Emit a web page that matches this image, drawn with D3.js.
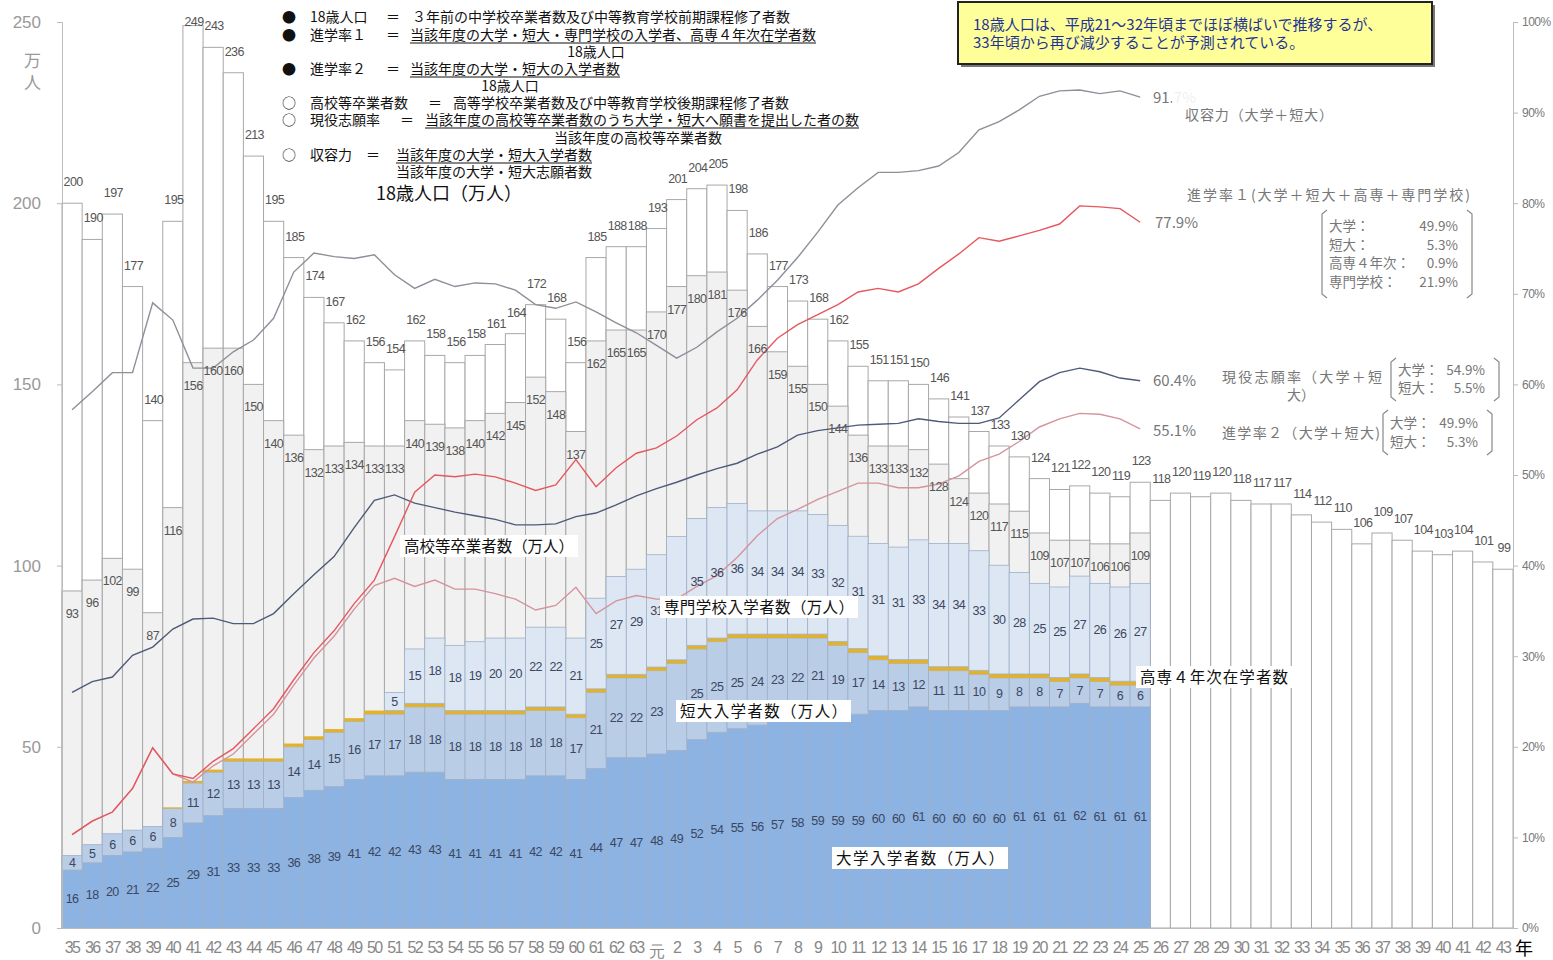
<!DOCTYPE html>
<html>
<head>
<meta charset="utf-8">
<style>
  body { margin: 0; background: #fff; }
  svg { display: block; font-family: "Liberation Sans", Arial, sans-serif; }
  .jp { font-family: "Noto Sans CJK JP", "Noto Sans", sans-serif; }
</style>
</head>
<body>
<svg id="chart" width="1553" height="960"></svg>
<script src="https://d3js.org/d3.v7.min.js"></script>
<script>
// years: Showa 35..63, Heisei 元..43
var years = ["35","36","37","38","39","40","41","42","43","44","45","46","47","48","49","50","51","52","53","54",
  "55","56","57","58","59","60","61","62","63","元","2","3","4","5","6","7","8","9","10","11","12","13","14","15",
  "16","17","18","19","20","21","22","23","24","25","26","27","28","29","30","31","32","33","34","35 ","36 ","37 ",
  "38 ","39 ","40 ","41 ","42 ","43 "];

// 18歳人口 (万人)
var pop18 = [200,190,197,177,140,195,249,243,236,213,195,185,174,167,162,156,154,162,158,156,
  158,161,164,172,168,156,185,188,188,193,201,204,205,198,186,177,173,168,162,155,
  151,151,150,146,141,137,133,130,124,121,122,120,119,123,118,120,119,120,118,117,
  117,114,112,110,106,109,107,104,103,104,101,99];

// 高校等卒業者数 (万人)  S35..H25
var highSchool = [93,96,102,99,87,116,156,160,160,150,140,136,132,133,134,133,133,140,139,138,
  140,142,145,152,148,137,162,165,165,170,177,180,181,176,166,159,155,150,144,136,
  133,133,132,128,124,120,117,115,109,107,107,106,106,109];

// 大学入学者数
var univ = [16,18,20,21,22,25,29,31,33,33,33,36,38,39,41,42,42,43,43,41,
  41,41,41,42,42,41,44,47,47,48,49,52,54,55,56,57,58,59,59,59,
  60,60,61,60,60,60,60,61,61,61,62,61,61,61];
// 短大入学者数
var junior = [4,5,6,6,6,8,11,12,13,13,13,14,14,15,16,17,17,18,18,18,
  18,18,18,18,18,17,21,22,22,23,24,25,25,25,24,23,22,21,19,17,
  14,13,12,11,11,10,9,8,8,7,7,7,6,6];
// 高専4年次在学者数
var kosen = [0,0,0,0,0,0.3,0.6,0.7,0.8,0.8,0.8,0.9,0.9,0.9,0.9,1,1,1,1,1,
  1,1,1,1,1,1,1,1,1,1,1,1,1,1.1,1.1,1.1,1.1,1.1,1.1,1.1,
  1.1,1.1,1.1,1.1,1.1,1.1,1.1,1.1,1.1,1.1,1.1,1.1,1.1,1.1];
// 専門学校入学者数
var senmon = [0,0,0,0,0,0,0,0,0,0,0,0,0,0,0,0,5,15,18,18,
  19,20,20,22,22,21,25,27,29,31,34,35,36,36,34,34,34,33,32,31,
  31,31,33,34,34,33,30,28,25,25,27,26,26,27];

// rates (%)
var capacity = [57.2,59.2,61.3,61.3,69.0,67.1,61.8,61.8,63.6,64.9,67.3,72.4,74.5,74.1,73.9,74.3,72.1,70.6,71.6,70.8,
  71.2,71.1,70.4,68.8,68.4,69.1,68.0,66.8,65.7,64.3,62.9,64.1,65.8,67.3,69.3,71.5,74.0,76.8,79.8,81.7,
  83.4,83.4,83.6,84.1,85.6,88.1,89.0,90.3,91.8,92.4,92.5,92.1,92.4,91.7];
var genneki = [26.0,27.2,27.7,30.1,31.0,33.0,34.1,34.2,33.6,33.6,34.7,36.9,39.0,41.0,44.2,47.2,47.8,46.9,46.4,45.9,
  45.5,45.1,44.5,44.5,44.6,45.4,45.8,46.7,47.7,48.5,49.2,50.0,50.7,51.3,52.3,53.1,54.4,54.9,55.2,55.5,
  55.6,55.7,56.2,55.9,55.7,55.7,56.3,58.3,60.3,61.3,61.8,61.4,60.7,60.4];
var rate2 = [10.3,11.8,12.8,15.4,19.9,17.0,16.1,17.9,19.2,21.4,23.6,26.8,29.8,32.2,35.2,37.8,38.6,37.7,38.4,37.4,
  37.4,36.9,36.3,35.1,35.6,37.6,34.7,36.1,36.7,36.3,36.3,37.7,38.9,40.9,43.3,45.2,46.2,47.3,48.2,49.1,
  49.1,48.6,48.6,49.0,49.9,51.5,52.3,53.7,55.3,56.2,56.8,56.7,56.2,55.1];
var rate1 = [10.3,11.8,12.8,15.4,19.9,17.0,16.5,18.4,19.8,22.0,24.2,27.4,30.4,32.8,35.8,38.4,43.2,48.1,50.0,49.8,
  50.1,49.8,49.1,48.3,48.9,51.7,48.7,50.8,52.4,53.0,54.3,56.1,57.4,59.4,62.7,65.1,66.6,67.7,68.8,70.2,
  70.6,70.2,71.1,72.8,74.4,76.2,75.8,76.4,77.0,77.7,79.7,79.6,79.4,77.9];

var svg = d3.select("#chart");
var x = d3.scaleBand().domain(years).range([62, 1513]).padding(0);
var y = d3.scaleLinear().domain([0, 250]).range([928, 22]);
var yp = d3.scaleLinear().domain([0, 100]).range([928, 22]);
var bw = x.bandwidth();
var actual = years.slice(0, highSchool.length);
function cx(d) { return x(d) + bw / 2; }

// 18歳人口 bars
svg.append("g").selectAll("rect").data(years).join("rect")
    .attr("x", d => x(d)).attr("y", (d, i) => y(pop18[i]))
    .attr("width", bw).attr("height", (d, i) => y(0) - y(pop18[i]))
    .attr("fill", "#fff").attr("stroke", "#a8a8a8").attr("stroke-width", 1);

// 高校等卒業者 bars
svg.append("g").selectAll("rect").data(actual).join("rect")
    .attr("x", d => x(d)).attr("y", (d, i) => y(highSchool[i]))
    .attr("width", bw).attr("height", (d, i) => y(0) - y(highSchool[i]))
    .attr("fill", "#f1f1f1").attr("stroke", "#a8a8a8").attr("stroke-width", 1);

// stacked entrants
var rows = actual.map((yr, i) => ({year: yr, univ: univ[i], jc: junior[i], kosen: kosen[i], senmon: senmon[i]}));
var series = d3.stack().keys(["univ", "jc", "kosen", "senmon"])(rows);
var colors = {univ: "#8db3e2", jc: "#b9cde6", kosen: "#e2b22c", senmon: "#dde7f3"};
svg.append("g").selectAll("g").data(series).join("g")
    .attr("fill", s => colors[s.key])
    .attr("stroke", s => s.key == "kosen" ? "none" : "#9fb0c8")
    .attr("stroke-width", 0.8)
  .selectAll("rect").data(s => s.filter(d => d[1] > d[0])).join("rect")
    .attr("x", d => x(d.data.year)).attr("y", d => y(d[1]))
    .attr("width", bw).attr("height", d => y(d[0]) - y(d[1]));

// axes
svg.append("line").attr("x1", 62).attr("x2", 1513).attr("y1", 928.5).attr("y2", 928.5).attr("stroke", "#bbb");
var la = svg.append("g").attr("transform", "translate(62,0)")
    .call(d3.axisLeft(y).tickValues([0, 50, 100, 150, 200, 250]).tickSize(5).tickPadding(16));
la.selectAll("text").attr("font-size", 17).attr("fill", "#999");
var ra = svg.append("g").attr("transform", "translate(1513,0)")
    .call(d3.axisRight(yp).tickValues(d3.range(0, 101, 10)).tickFormat(d => d + "%").tickSize(5).tickPadding(4));
ra.selectAll("text").attr("font-size", 12).attr("fill", "#777").attr("letter-spacing", -0.5);
var xa = svg.append("g").attr("transform", "translate(0,928)")
    .call(d3.axisBottom(x).tickSize(0).tickPadding(14));
xa.selectAll("text").attr("font-size", 16).attr("fill", "#888").attr("letter-spacing", -1.6)
    .attr("dy", d => d == "元" ? "0.95em" : "0.71em");
[la, ra, xa].forEach(a => { a.select(".domain").attr("stroke", "#bbb"); a.selectAll(".tick line").attr("stroke", "#bbb"); });
xa.select(".domain").remove();
svg.append("text").attr("class", "jp").attr("x", 1515).attr("y", 955).attr("font-size", 18).text("年");
svg.append("text").attr("class", "jp").attr("x", 24).attr("y", 67).attr("font-size", 17).attr("fill", "#999").text("万");
svg.append("text").attr("class", "jp").attr("x", 24).attr("y", 89).attr("font-size", 17).attr("fill", "#999").text("人");

// rate lines
var line = d3.line().x((d, i) => cx(actual[i])).y(d => yp(d));
[[capacity, "#8d8f99"], [genneki, "#4e5a78"], [rate2, "#d5939d"], [rate1, "#e6575e"]].forEach(function(p) {
  svg.append("path").datum(p[0]).attr("d", line).attr("fill", "none")
      .attr("stroke", p[1]).attr("stroke-width", 1.4);
});

// value labels
var lab = svg.append("g").attr("font-size", 12.5).attr("text-anchor", "middle").attr("letter-spacing", -0.6);
lab.selectAll(".p18").data(years).join("text")
    .attr("x", d => cx(d) + 1).attr("y", (d, i) => Math.max(y(pop18[i]) - 17, 26))
    .attr("fill", "#555").text((d, i) => pop18[i]);
lab.selectAll(".hs").data(actual).join("text")
    .attr("x", d => cx(d)).attr("y", (d, i) => y(highSchool[i]) + 27)
    .attr("fill", "#555").text((d, i) => highSchool[i]);
// labels of 平成2 short college / vocational school sit under the name boxes in the original
[["univ", 0], ["jc", 1], ["senmon", 3]].forEach(function(k) {
  var segs = series[k[1]].filter(d => d[1] - d[0] >= 1 && !(k[0] != "univ" && d.data.year == "2"));
  lab.append("g").selectAll("text").data(segs).join("text")
      .attr("x", d => cx(d.data.year)).attr("y", d => (y(d[0]) + y(d[1])) / 2 + 4)
      .attr("fill", "#3b4660").text(d => d.data[k[0]]);
});

// formula legend
var lg = svg.append("g").attr("class", "jp").attr("font-size", 14).attr("fill", "#111");
function put(xp, yp0, s, ul, anchor) {
  var t = lg.append("text").attr("x", xp).attr("y", yp0).attr("text-anchor", anchor || "start").text(s);
  if (ul) {
    var w = t.node().getComputedTextLength();
    lg.append("line").attr("x1", xp).attr("x2", xp + w).attr("y1", yp0 + 3).attr("y2", yp0 + 3)
        .attr("stroke", "#111").attr("stroke-width", 1);
  }
}
put(282, 22, "●"); put(310, 22, "18歳人口"); put(386, 22, "＝"); put(412, 22, "３年前の中学校卒業者数及び中等教育学校前期課程修了者数");
put(282, 40, "●"); put(310, 40, "進学率１"); put(386, 40, "＝"); put(410, 40, "当該年度の大学・短大・専門学校の入学者、高専４年次在学者数", true);
put(596, 57, "18歳人口", false, "middle");
put(282, 74, "●"); put(310, 74, "進学率２"); put(386, 74, "＝"); put(410, 74, "当該年度の大学・短大の入学者数", true);
put(510, 91, "18歳人口", false, "middle");
put(282, 108, "○"); put(310, 108, "高校等卒業者数"); put(428, 108, "＝"); put(453, 108, "高等学校卒業者数及び中等教育学校後期課程修了者数");
put(282, 125, "○"); put(310, 125, "現役志願率"); put(400, 125, "＝"); put(425, 125, "当該年度の高校等卒業者数のうち大学・短大へ願書を提出した者の数", true);
put(638, 143, "当該年度の高校等卒業者数", false, "middle");
put(282, 160, "○"); put(310, 160, "収容力"); put(366, 160, "＝"); put(396, 160, "当該年度の大学・短大入学者数", true);
put(396, 177, "当該年度の大学・短大志願者数");
lg.append("text").attr("x", 376).attr("y", 200).attr("font-size", 18).text("18歳人口（万人）");

// note box
svg.append("rect").attr("x", 961).attr("y", 5).attr("width", 474).attr("height", 62).attr("fill", "#777");
svg.append("rect").attr("x", 958).attr("y", 2).attr("width", 474).attr("height", 62)
    .attr("fill", "#ffff99").attr("stroke", "#222").attr("stroke-width", 2);
var nb = svg.append("g").attr("class", "jp").attr("font-size", 15).attr("fill", "#1f3594");
nb.append("text").attr("x", 973).attr("y", 30).text("18歳人口は、平成21～32年頃までほぼ横ばいで推移するが、");
nb.append("text").attr("x", 973).attr("y", 48).text("33年頃から再び減少することが予測されている。");

// right annotations
var an = svg.append("g").attr("class", "jp").attr("font-size", 14).attr("fill", "#777");
an.append("text").attr("x", 1153).attr("y", 103).attr("font-size", 15).text("91.7%");
svg.append("rect").attr("x", 1172).attr("y", 84).attr("width", 170).attr("height", 44).attr("fill", "#fff").attr("opacity", 0.88);
var an2 = svg.append("g").attr("class", "jp").attr("font-size", 14).attr("fill", "#777");
an2.append("text").attr("x", 1185).attr("y", 120).attr("textLength", 148).text("収容力（大学＋短大）");
an2.append("text").attr("x", 1187).attr("y", 200).attr("textLength", 283).text("進学率１(大学＋短大＋高専＋専門学校)");
an2.append("text").attr("x", 1155).attr("y", 228).attr("font-size", 15).text("77.9%");
an2.append("text").attr("x", 1153).attr("y", 386).attr("font-size", 15).text("60.4%");
an2.append("text").attr("x", 1153).attr("y", 436).attr("font-size", 15).text("55.1%");
an2.append("text").attr("x", 1222).attr("y", 382).attr("textLength", 160).text("現役志願率（大学＋短");
an2.append("text").attr("x", 1287).attr("y", 400).text("大）");
an2.append("text").attr("x", 1222).attr("y", 438).attr("textLength", 158).text("進学率２（大学＋短大)");

function bracket(x0, x1, y0, y1, items) {
  var g = an2.append("g");
  g.append("path").attr("fill", "none").attr("stroke", "#888").attr("stroke-width", 1.2)
      .attr("d", "M" + (x0 + 5) + "," + y0 + " L" + x0 + "," + (y0 + 4) + " L" + x0 + "," + (y1 - 4) + " L" + (x0 + 5) + "," + y1 +
        " M" + (x1 - 5) + "," + y0 + " L" + x1 + "," + (y0 + 4) + " L" + x1 + "," + (y1 - 4) + " L" + (x1 - 5) + "," + y1);
  items.forEach(function(it, i) {
    g.append("text").attr("x", x0 + 7).attr("y", it[2]).attr("font-size", 13.5).text(it[0]);
    g.append("text").attr("x", x1 - 14).attr("y", it[2]).attr("font-size", 13.5).attr("text-anchor", "end").text(it[1]);
  });
}
bracket(1322, 1472, 210, 298, [["大学：", "49.9%", 231], ["短大：", "5.3%", 250], ["高専４年次：", "0.9%", 268], ["専門学校：", "21.9%", 287]]);
bracket(1391, 1499, 358, 401, [["大学：", "54.9%", 375], ["短大：", "5.5%", 393]]);
bracket(1383, 1492, 410, 455, [["大学：", "49.9%", 428], ["短大：", "5.3%", 447]]);

// series name boxes
var boxes = [["高校等卒業者数（万人）", 400, 535, 178], ["専門学校入学者数（万人）", 660, 596, 198],
  ["短大入学者数（万人）", 676, 700, 175], ["高専４年次在学者数", 1136, 666, 156], ["大学入学者数（万人）", 832, 847, 176]];
var bx = svg.append("g").attr("class", "jp");
boxes.forEach(function(b) {
  bx.append("rect").attr("x", b[1]).attr("y", b[2]).attr("width", b[3]).attr("height", 22).attr("fill", "#fff");
  bx.append("text").attr("x", b[1] + 4).attr("y", b[2] + 17).attr("font-size", 15.5).attr("fill", "#111")
      .attr("textLength", b[3] - 8).attr("lengthAdjust", "spacing").text(b[0]);
});
</script>
</body>
</html>
